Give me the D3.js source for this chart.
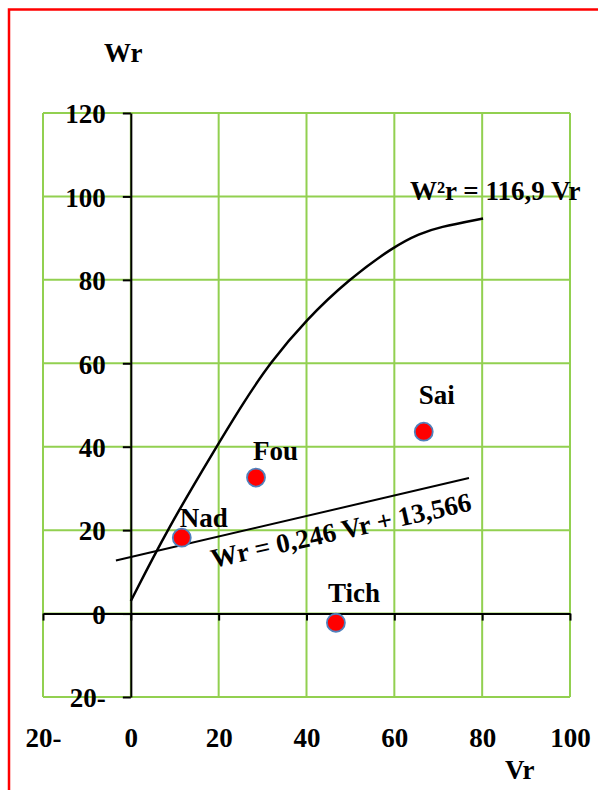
<!DOCTYPE html>
<html>
<head>
<meta charset="utf-8">
<script src="https://cdn.jsdelivr.net/npm/d3@7"></script>
<style>
  html, body { margin: 0; padding: 0; background: #fff; }
  svg { display: block; }
  text { font-family: "Liberation Serif", "Times New Roman", serif; font-weight: bold; fill: #000; }
</style>
</head>
<body>
<svg id="chart" width="598" height="790"></svg>
<script>
// ---- data ----
const pointNames = ["Nad", "Fou", "Sai", "Tich"];
const pointVr = [11.6, 28.5, 66.7, 46.7];
const pointWr = [18.2, 32.6, 43.6, -2.2];

// curve W²r = 116,9 Vr as drawn
const curveVr = [0, 8.2, 19.5, 25.6, 31.6, 40, 49.5, 60, 65.8, 70, 80.2];
const curveWr = [3, 20, 40, 50.5, 60, 70.5, 80, 88.1, 91.1, 92.6, 94.7];

// regression line Wr = 0,246 Vr + 13,566 (end points as drawn)
const lineVr = [-3.4, 77];
const lineWr = [12.7, 32.5];

const xTicks = [-20, 0, 20, 40, 60, 80, 100];
const xTickLabels = ["20-", "0", "20", "40", "60", "80", "100"];
const yTicks = [-20, 0, 20, 40, 60, 80, 100, 120];
const yTickLabels = ["20-", "0", "20", "40", "60", "80", "100", "120"];

const curveLabel = "W²r = 116,9 Vr";
const lineLabel = "Wr = 0,246 Vr + 13,566";
const xTitle = "Vr";
const yTitle = "Wr";

// ---- layout ----
const labelOffsets = [[-2, -11], [-3, -18], [-5, -28], [-8, -21]];
const FS = 27;

const svg = d3.select("#chart");
const x = d3.scaleLinear().domain([-20, 100]).range([43, 570]);
const y = d3.scaleLinear().domain([-20, 120]).range([697, 113]);

// red frame
svg.append("rect").attr("x", 9).attr("y", 9.5).attr("width", 700).attr("height", 900)
  .attr("fill", "none").attr("stroke", "#ff0000").attr("stroke-width", 2.5);

// grid
const grid = svg.append("g").attr("stroke", "#92d050").attr("stroke-width", 2);
grid.selectAll("line.v").data(xTicks).join("line")
  .attr("x1", d => x(d)).attr("x2", d => x(d)).attr("y1", y(120)).attr("y2", y(-20));
grid.selectAll("line.h").data(yTicks).join("line")
  .attr("y1", d => y(d)).attr("y2", d => y(d)).attr("x1", x(-20)).attr("x2", x(100));

// x axis at y=0
const xAxis = svg.append("g").attr("transform", `translate(0,${y(0)})`)
  .call(d3.axisBottom(x).tickValues(xTicks).tickFormat("").tickSize(7).tickSizeOuter(0));
xAxis.selectAll("path,line").attr("stroke", "#000").attr("stroke-width", 2);

// x tick labels at bottom
const xLab = svg.append("g").attr("transform", `translate(0,${y(-20)})`)
  .call(d3.axisBottom(x).tickValues(xTicks).tickFormat((d, i) => xTickLabels[i]).tickSize(0).tickPadding(31));
xLab.select(".domain").remove();
xLab.selectAll("text").attr("font-size", FS).attr("font-family", "Liberation Serif").attr("font-weight", "bold");

// y axis at x=0
const yAxis = svg.append("g").attr("transform", `translate(${x(0)},0)`)
  .call(d3.axisLeft(y).tickValues(yTicks).tickFormat((d, i) => yTickLabels[i]).tickSize(8).tickSizeOuter(0).tickPadding(17));
yAxis.selectAll("path,line").attr("stroke", "#000").attr("stroke-width", 2);
yAxis.selectAll("text").attr("font-size", FS).attr("font-family", "Liberation Serif").attr("font-weight", "bold").attr("dy", "0.36em");

// curve
const curvePts = curveVr.map((v, i) => [v, curveWr[i]]);
svg.append("path").datum(curvePts)
  .attr("d", d3.line().x(d => x(d[0])).y(d => y(d[1])).curve(d3.curveBasis))
  .attr("fill", "none").attr("stroke", "#000").attr("stroke-width", 2.5);

// regression line
svg.append("line")
  .attr("x1", x(lineVr[0])).attr("y1", y(lineWr[0]))
  .attr("x2", x(lineVr[1])).attr("y2", y(lineWr[1]))
  .attr("stroke", "#000").attr("stroke-width", 2);

// points
const pts = pointNames.map((n, i) => ({ n, v: pointVr[i], w: pointWr[i], o: labelOffsets[i] }));
svg.selectAll("circle.pt").data(pts).join("circle")
  .attr("cx", d => x(d.v)).attr("cy", d => y(d.w)).attr("r", 9)
  .attr("fill", "#ff0000").attr("stroke", "#4f81bd").attr("stroke-width", 1.8);
svg.selectAll("text.pl").data(pts).join("text")
  .attr("x", d => x(d.v) + d.o[0]).attr("y", d => y(d.w) + d.o[1])
  .attr("font-size", FS).text(d => d.n);

// equation labels
svg.append("text").attr("x", 410).attr("y", 200).attr("font-size", FS).text(curveLabel);
svg.append("text").attr("transform", "translate(213,568) rotate(-12.5)")
  .attr("font-size", FS).text(lineLabel);

// axis titles
svg.append("text").attr("x", 104).attr("y", 62).attr("font-size", FS).text(yTitle);
svg.append("text").attr("x", 505).attr("y", 779).attr("font-size", FS).text(xTitle);
</script>
</body>
</html>
